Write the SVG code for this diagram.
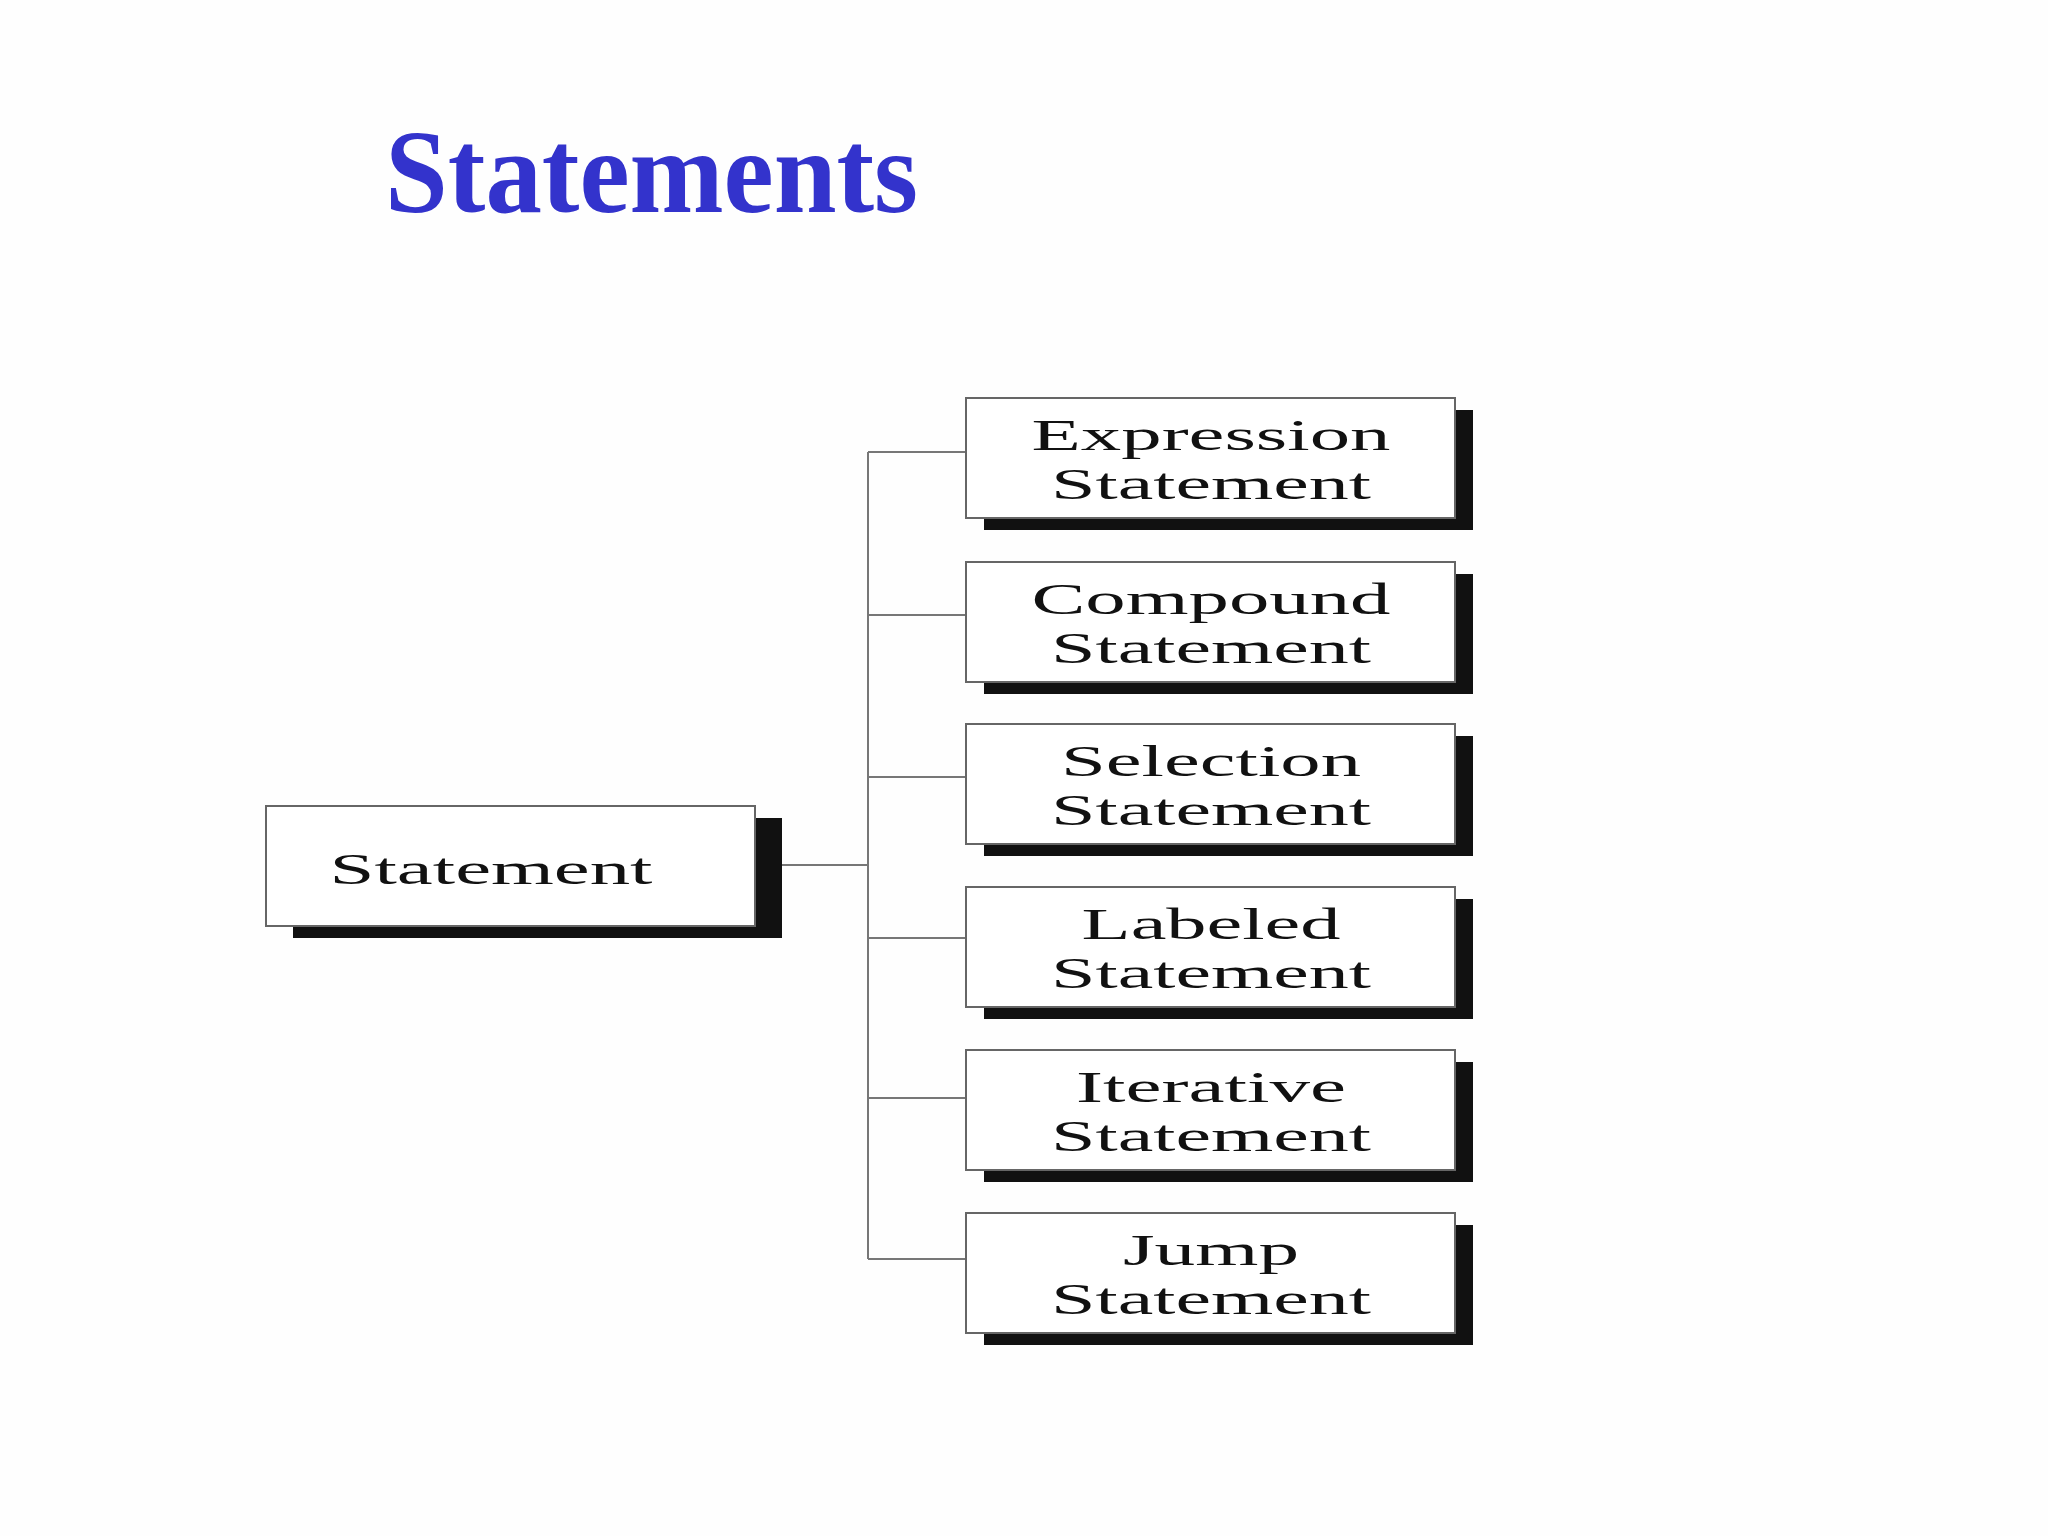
<svg xmlns="http://www.w3.org/2000/svg" width="2048" height="1536" viewBox="0 0 2048 1536">
<style>
.sh{fill:#111}
.bx{fill:#fff;stroke:#666;stroke-width:2}
.t{font-family:"Liberation Serif","DejaVu Serif",serif;font-size:45px;fill:#111;text-anchor:middle}
.c{stroke:#777;stroke-width:2;fill:none}
</style>
<rect width="2048" height="1536" fill="#fefefe"/>
<text x="385" y="212" font-family="Liberation Serif,serif" font-weight="bold" font-size="118" fill="#3333cc" textLength="533" lengthAdjust="spacingAndGlyphs">Statements</text>
<g id="connectors">
<path class="c" d="M782 865H868M868 452V1259M868 452H966M868 615H966M868 777H966M868 938H966M868 1098H966M868 1259H966"/>
</g>
<g id="statement"><rect class="sh" x="293" y="818" width="489" height="120"/><rect class="bx" x="266" y="806" width="489" height="120"/><text class="t" x="491" y="884" font-size="48" textLength="323" lengthAdjust="spacingAndGlyphs">Statement</text></g>
<g id="expression"><rect class="sh" x="984" y="410" width="489" height="120"/><rect class="bx" x="966" y="398" width="489" height="120"/><text class="t" x="1211" y="450" textLength="359" lengthAdjust="spacingAndGlyphs">Expression</text><text class="t" x="1211" y="499" textLength="320" lengthAdjust="spacingAndGlyphs">Statement</text></g>
<g id="compound"><rect class="sh" x="984" y="574" width="489" height="120"/><rect class="bx" x="966" y="562" width="489" height="120"/><text class="t" x="1211" y="614" textLength="359" lengthAdjust="spacingAndGlyphs">Compound</text><text class="t" x="1211" y="663" textLength="320" lengthAdjust="spacingAndGlyphs">Statement</text></g>
<g id="selection"><rect class="sh" x="984" y="736" width="489" height="120"/><rect class="bx" x="966" y="724" width="489" height="120"/><text class="t" x="1211" y="776" textLength="300" lengthAdjust="spacingAndGlyphs">Selection</text><text class="t" x="1211" y="825" textLength="320" lengthAdjust="spacingAndGlyphs">Statement</text></g>
<g id="labeled"><rect class="sh" x="984" y="899" width="489" height="120"/><rect class="bx" x="966" y="887" width="489" height="120"/><text class="t" x="1211" y="939" textLength="259" lengthAdjust="spacingAndGlyphs">Labeled</text><text class="t" x="1211" y="988" textLength="320" lengthAdjust="spacingAndGlyphs">Statement</text></g>
<g id="iterative"><rect class="sh" x="984" y="1062" width="489" height="120"/><rect class="bx" x="966" y="1050" width="489" height="120"/><text class="t" x="1211" y="1102" textLength="270" lengthAdjust="spacingAndGlyphs">Iterative</text><text class="t" x="1211" y="1151" textLength="320" lengthAdjust="spacingAndGlyphs">Statement</text></g>
<g id="jump"><rect class="sh" x="984" y="1225" width="489" height="120"/><rect class="bx" x="966" y="1213" width="489" height="120"/><text class="t" x="1211" y="1265" textLength="176" lengthAdjust="spacingAndGlyphs">Jump</text><text class="t" x="1211" y="1314" textLength="320" lengthAdjust="spacingAndGlyphs">Statement</text></g>
</svg>
